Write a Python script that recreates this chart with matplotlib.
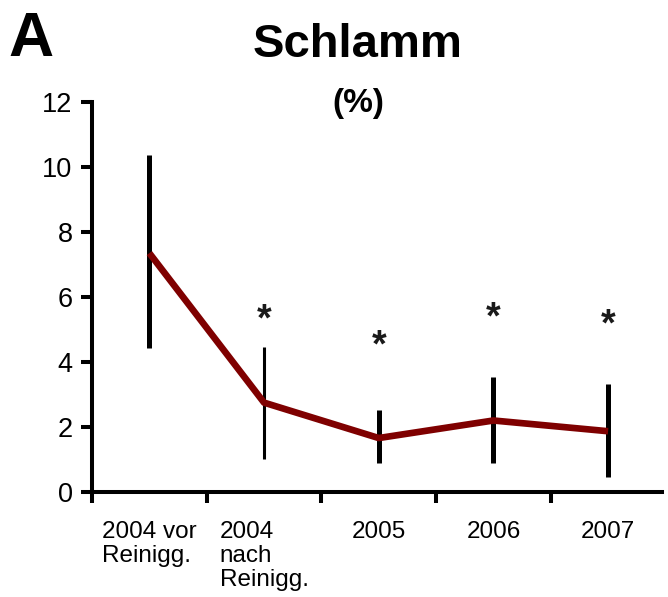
import matplotlib.pyplot as plt
import numpy as np

plt.rcParams['font.family'] = ['Liberation Sans', 'DejaVu Sans']

# data
categories = ["2004 vor\nReinigg.", "2004\nnach\nReinigg.", "2005", "2006", "2007"]
means = [7.35, 2.75, 1.66, 2.2, 1.87]
err_low = [4.43, 1.02, 0.89, 0.89, 0.46]
err_high = [10.37, 4.46, 2.52, 3.54, 3.32]
star_y = [None, 5.5, 4.7, 5.55, 5.35]
bar_widths = [3.6, 2.2, 3.6, 3.6, 3.6]

x = np.arange(len(categories))

fig = plt.figure(figsize=(6.68, 5.97), dpi=100)
ax = fig.add_axes([92 / 668, 105 / 597, (662 - 92) / 668, (492 - 102) / 597])

# error bars
ax.vlines(x, err_low, err_high, colors="black", linewidths=bar_widths, zorder=2)

# mean line
ax.plot(x, means, color="#7f0000", lw=4.8, zorder=3, solid_capstyle="butt")

# significance stars
for xi, sy in zip(x, star_y):
    if sy is not None:
        ax.annotate("*", (xi, sy), xytext=(0, -5), textcoords="offset points",
                    ha="center", va="center", fontsize=27, fontweight="bold",
                    color="#1a1a1a")

ax.set_xlim(-0.5, 4.47)
ax.set_ylim(0, 12)

for side in ["top", "right"]:
    ax.spines[side].set_visible(False)
for side in ["left", "bottom"]:
    ax.spines[side].set_linewidth(2.9)

ax.set_yticks(np.arange(0, 13, 2))
ax.tick_params(axis="y", direction="out", length=8, width=2.9, labelsize=19.5, pad=6)

ax.set_xticks(np.arange(-0.5, 4, 1.0))
ax.set_xticklabels([])
ax.tick_params(axis="x", which="major", direction="out", length=8, width=2.9)
ax.set_xticks(x, minor=True)
ax.set_xticklabels(categories, minor=True, fontsize=17.5, linespacing=1.12,
                   ha="center", va="top", multialignment="left")
ax.tick_params(axis="x", which="minor", length=0, pad=21)
ax.spines["left"].set_bounds(0, 12)

fig.text(358 / 668, 1 - 45 / 597, "Schlamm", ha="center", va="center",
         fontsize=34, fontweight="bold")
fig.text(358 / 668, 1 - 104 / 597, "(%)", ha="center", va="center",
         fontsize=24, fontweight="bold")
fig.text(8 / 668, 1 - 40 / 597, "A", ha="left", va="center",
         fontsize=45, fontweight="bold")

fig.savefig("out.png", dpi=100)
